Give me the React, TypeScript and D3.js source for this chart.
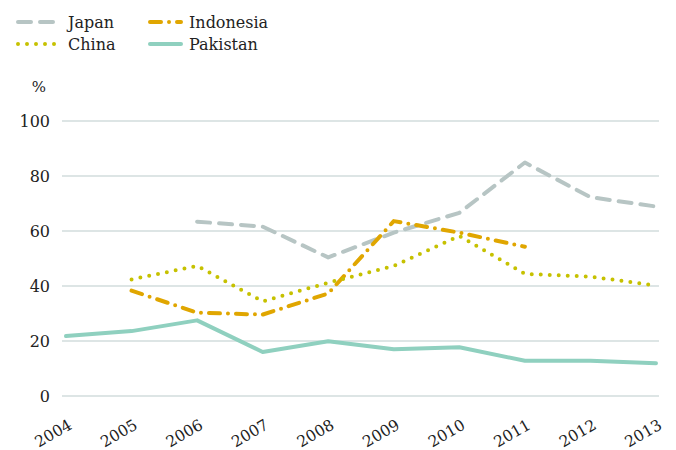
import * as d3 from "d3";

const years = [2004, 2005, 2006, 2007, 2008, 2009, 2010, 2011, 2012, 2013];
const japan = [null, null, 63.4, 61.6, 50.4, 59.4, 66.6, 84.9, 72.3, 68.9];
const indonesia = [null, 38.3, 30.3, 29.6, 37.3, 63.6, 59.4, 54.3, null, null];
const china = [null, 42.4, 47.3, 34.4, 41.2, 47.3, 58.2, 44.4, 43.4, 40.2];
const pakistan = [21.8, 23.6, 27.5, 16.0, 19.9, 17.0, 17.7, 12.8, 12.8, 11.9];
const yTicks = [0, 20, 40, 60, 80, 100];

const font = "'DejaVu Serif', serif";

const series = [
  { name: "Japan", values: japan, color: "#b7c5c4", dash: "13,9" },
  { name: "Indonesia", values: indonesia, color: "#e0a600", dash: "11,8,0,8" },
  { name: "China", values: china, color: "#c6c100", dash: "0,9" },
  { name: "Pakistan", values: pakistan, color: "#8fd0bf", dash: null },
];

// legend rows: left column has longer keys than the right one
const legend = [
  { s: series[0], x1: 18, x2: 54, tx: 68, y: 22 },
  { s: series[1], x1: 150, x2: 181, tx: 189, y: 22 },
  { s: series[2], x1: 18, x2: 56, tx: 68, y: 44 },
  { s: series[3], x1: 150, x2: 181, tx: 189, y: 44 },
];

export default function App() {
  const x = d3.scaleLinear().domain([2004, 2013]).range([66, 656]);
  const y = d3.scaleLinear().domain([0, 100]).range([396, 121]);

  const line = d3
    .line<number | null>()
    .defined((d) => d != null)
    .x((_, i) => x(years[i]))
    .y((d) => y(d as number));

  return (
    <svg
      width={676}
      height={450}
      style={{ position: "absolute", left: 0, top: 0 }}
      fontFamily={font}
    >
      <rect width={676} height={450} fill="#fff" />
      {yTicks.map((t) => (
        <g key={t}>
          <line x1={62} x2={659} y1={y(t)} y2={y(t)} stroke="#bccccb" strokeWidth={1.2} />
          <text x={50} y={y(t)} dy="0.35em" textAnchor="end" fontSize={16} fill="#222">
            {t}
          </text>
        </g>
      ))}
      <text x={39} y={92} textAnchor="middle" fontSize={15} fill="#222">
        %
      </text>
      {years.map((yr) => (
        <text
          key={yr}
          transform={`translate(${x(yr) + 7},${428}) rotate(-30)`}
          textAnchor="end"
          fontSize={15.5}
          fill="#222"
        >
          {yr}
        </text>
      ))}
      {series.map((s) => (
        <path
          key={s.name}
          d={line(s.values) || ""}
          fill="none"
          stroke={s.color}
          strokeWidth={4}
          strokeLinecap="round"
          strokeLinejoin="round"
          strokeDasharray={s.dash || undefined}
        />
      ))}
      {legend.map(({ s, x1, x2, tx, y: ly }) => (
        <g key={s.name}>
          <line
            x1={x1}
            x2={x2}
            y1={ly}
            y2={ly}
            stroke={s.color}
            strokeWidth={4}
            strokeLinecap="round"
            strokeDasharray={s.dash || undefined}
          />
          <text x={tx} y={ly} dy="0.35em" fontSize={16} fill="#222">
            {s.name}
          </text>
        </g>
      ))}
    </svg>
  );
}
